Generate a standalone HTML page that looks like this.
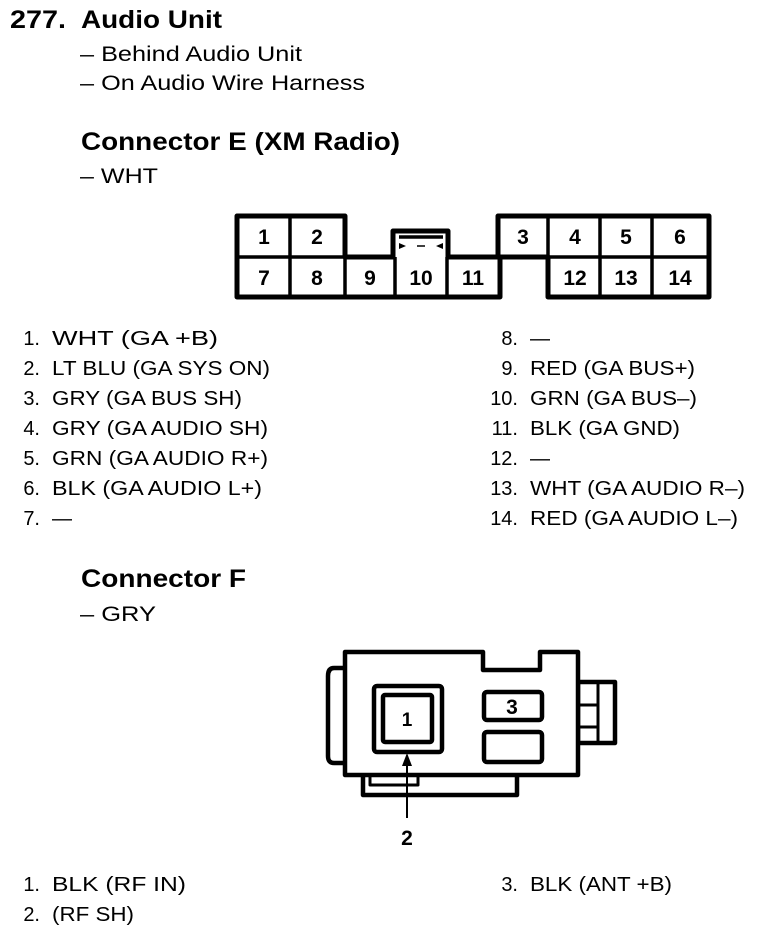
<!DOCTYPE html>
<html><head><meta charset="utf-8"><style>
html,body{margin:0;padding:0;background:#fff;}
svg{display:block;}
text{font-family:"Liberation Sans",Arial,sans-serif;fill:#000;}
.b{font-weight:bold;}
.t{font-size:21px;}
.l{font-size:20px;}
</style></head><body>
<svg width="768" height="936" viewBox="0 0 768 936" xmlns="http://www.w3.org/2000/svg">
<text x="10" y="28" class="b" font-size="25" textLength="56" lengthAdjust="spacingAndGlyphs">277.</text>
<text x="81" y="28" class="b" font-size="25" textLength="141" lengthAdjust="spacingAndGlyphs">Audio Unit</text>
<text x="80" y="61" class="t" textLength="222" lengthAdjust="spacingAndGlyphs">– Behind Audio Unit</text>
<text x="80" y="90" class="t" textLength="285" lengthAdjust="spacingAndGlyphs">– On Audio Wire Harness</text>
<text x="81" y="150" class="b" font-size="25" textLength="319" lengthAdjust="spacingAndGlyphs">Connector E (XM Radio)</text>
<text x="80" y="183" class="t" textLength="78" lengthAdjust="spacingAndGlyphs">– WHT</text>

<!-- Connector E -->
<g fill="none" stroke="#000" stroke-width="5" stroke-linejoin="round">
<path d="M237,216 H345 V257 H393 V231 H448 V257 H498 V216 H709 V297 H548 V257 H500 V297 H237 Z" fill="#fff"/>
<g stroke-width="3.5">
<line x1="237" y1="257" x2="345" y2="257"/>
<line x1="498" y1="257" x2="709" y2="257"/>
<line x1="290" y1="216" x2="290" y2="297"/>
<line x1="345" y1="257" x2="345" y2="297"/>
<line x1="395" y1="257" x2="395" y2="297"/>
<line x1="447" y1="257" x2="447" y2="297"/>
<line x1="500" y1="257" x2="500" y2="297"/>
<line x1="548" y1="216" x2="548" y2="297"/>
<line x1="600" y1="216" x2="600" y2="297"/>
<line x1="652" y1="216" x2="652" y2="297"/>
<line x1="399" y1="237" x2="443" y2="237"/>
</g>
</g>
<path d="M399,243 l7,3 l-7,3z M443,243 l-7,3 l7,3z" fill="#000"/>
<line x1="417" y1="246" x2="425" y2="246" stroke="#000" stroke-width="1.5"/>
<g class="b" font-size="21" text-anchor="middle">
<text x="264" y="244">1</text><text x="317" y="244">2</text>
<text x="523" y="244">3</text><text x="575" y="244">4</text><text x="626" y="244">5</text><text x="680" y="244">6</text>
<text x="264" y="285">7</text><text x="317" y="285">8</text><text x="370" y="285">9</text><text x="421" y="285">10</text><text x="473" y="285">11</text>
<text x="575" y="285">12</text><text x="626" y="285">13</text><text x="680" y="285">14</text>
</g>

<!-- Lists E -->
<g class="l" text-anchor="end">
<text x="40" y="345">1.</text><text x="40" y="375">2.</text><text x="40" y="405">3.</text><text x="40" y="435">4.</text><text x="40" y="465">5.</text><text x="40" y="495">6.</text><text x="40" y="525">7.</text>
<text x="518" y="345">8.</text><text x="518" y="375">9.</text><text x="518" y="405">10.</text><text x="518" y="435">11.</text><text x="518" y="465">12.</text><text x="518" y="495">13.</text><text x="518" y="525">14.</text>
</g>
<g class="l">
<text x="52" y="345" textLength="166" lengthAdjust="spacingAndGlyphs">WHT (GA +B)</text>
<text x="52" y="375" textLength="218" lengthAdjust="spacingAndGlyphs">LT BLU (GA SYS ON)</text>
<text x="52" y="405" textLength="190" lengthAdjust="spacingAndGlyphs">GRY (GA BUS SH)</text>
<text x="52" y="435" textLength="216" lengthAdjust="spacingAndGlyphs">GRY (GA AUDIO SH)</text>
<text x="52" y="465" textLength="216" lengthAdjust="spacingAndGlyphs">GRN (GA AUDIO R+)</text>
<text x="52" y="495" textLength="210" lengthAdjust="spacingAndGlyphs">BLK (GA AUDIO L+)</text>
<text x="52" y="525">—</text>
<text x="530" y="345">—</text>
<text x="530" y="375" textLength="165" lengthAdjust="spacingAndGlyphs">RED (GA BUS+)</text>
<text x="530" y="405" textLength="167" lengthAdjust="spacingAndGlyphs">GRN (GA BUS–)</text>
<text x="530" y="435" textLength="150" lengthAdjust="spacingAndGlyphs">BLK (GA GND)</text>
<text x="530" y="465">—</text>
<text x="530" y="495" textLength="215" lengthAdjust="spacingAndGlyphs">WHT (GA AUDIO R–)</text>
<text x="530" y="525" textLength="208" lengthAdjust="spacingAndGlyphs">RED (GA AUDIO L–)</text>
</g>

<text x="81" y="587" class="b" font-size="25" textLength="165" lengthAdjust="spacingAndGlyphs">Connector F</text>
<text x="80" y="621" class="t" textLength="76" lengthAdjust="spacingAndGlyphs">– GRY</text>

<!-- Connector F -->
<g fill="#fff" stroke="#000" stroke-width="4.5" stroke-linejoin="round">
<path d="M363,775 V795 H517 V775"/>
<rect x="370" y="775" width="48" height="10" stroke-width="3"/>
<path d="M345,668 H334 Q328,668 328,676 V756 Q328,763 334,763 H345"/>
<rect x="578" y="682" width="37" height="61"/>
<line x1="598" y1="682" x2="598" y2="743" stroke-width="3"/>
<line x1="578" y1="705" x2="598" y2="705" stroke-width="3"/>
<line x1="578" y1="727" x2="598" y2="727" stroke-width="3"/>
<path d="M345,652 H483 V670 H540 V652 H578 V775 H345 Z"/>
<rect x="374" y="686" width="68" height="66" rx="3"/>
<rect x="383" y="695" width="49" height="47" rx="2"/>
<rect x="484" y="692" width="58" height="28" rx="3"/>
<rect x="484" y="732" width="58" height="30" rx="3"/>
</g>
<line x1="407" y1="818" x2="407" y2="762" stroke="#000" stroke-width="2"/>
<path d="M407,753 L402,766 L412,766 Z" fill="#000"/>
<text x="407" y="726" class="b" font-size="19" text-anchor="middle">1</text>
<text x="512" y="714" class="b" font-size="21" text-anchor="middle">3</text>
<text x="407" y="845" class="b" font-size="21" text-anchor="middle">2</text>

<g class="l">
<text x="40" y="891" text-anchor="end">1.</text>
<text x="40" y="921" text-anchor="end">2.</text>
<text x="518" y="891" text-anchor="end">3.</text>
<text x="52" y="891" textLength="134" lengthAdjust="spacingAndGlyphs">BLK (RF IN)</text>
<text x="52" y="921" textLength="82" lengthAdjust="spacingAndGlyphs">(RF SH)</text>
<text x="530" y="891" textLength="142" lengthAdjust="spacingAndGlyphs">BLK (ANT +B)</text>
</g>
</svg>
</body></html>
